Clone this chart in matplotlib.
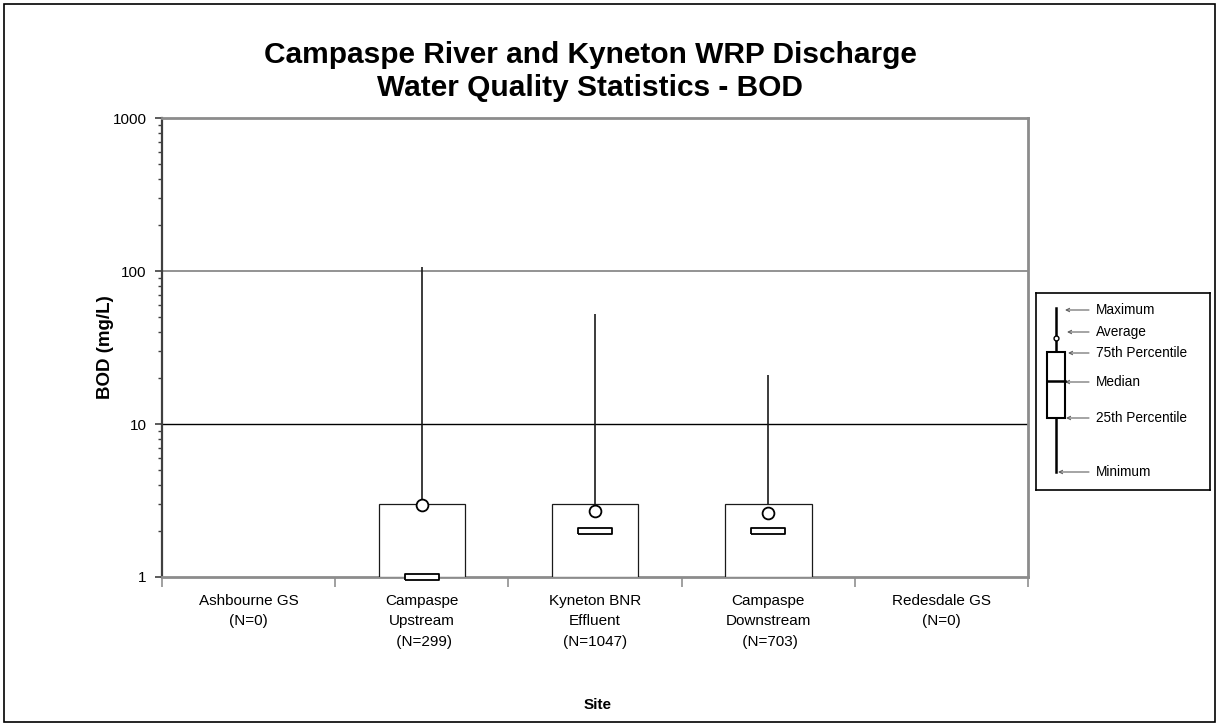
import matplotlib.pyplot as plt
from matplotlib import font_manager
from matplotlib.patches import Rectangle
from matplotlib.ticker import FixedLocator, LogLocator, NullFormatter
import numpy as np

plt.rcParams['font.family'] = ['Liberation Sans', 'DejaVu Sans']

# site statistics (BOD, mg/L)
sites = ['Ashbourne GS\n(N=0)', 'Campaspe\nUpstream\n (N=299)', 'Kyneton BNR\nEffluent\n(N=1047)',
         'Campaspe\nDownstream\n (N=703)', 'Redesdale GS\n(N=0)']
minimum = [np.nan, 1.0, 1.0, 1.0, np.nan]
pct25 = [np.nan, 1.0, 1.0, 1.0, np.nan]
median = [np.nan, 1.0, 2.0, 2.0, np.nan]
pct75 = [np.nan, 3.0, 3.0, 3.0, np.nan]
maximum = [np.nan, 106.0, 52.0, 21.0, np.nan]
average = [np.nan, 2.97, 2.7, 2.62, np.nan]

legend_labels = ['Maximum', 'Average', '75th Percentile', 'Median', '25th Percentile', 'Minimum']

narrow = 'Liberation Sans Narrow'
try:
    font_manager.findfont(narrow, fallback_to_default=False)
    narrow_font, narrow_size = [narrow, 'Liberation Sans'], 11
except ValueError:
    narrow_font, narrow_size = ['Liberation Sans'], 9.8

W, H = 1219, 724
fig = plt.figure(figsize=(W / 100, H / 100), dpi=100)
ax = fig.add_axes([162 / W, 1 - 577 / H, 866 / W, 459 / H])

x = np.arange(len(sites))
lo = np.array(pct25)
hi = np.array(pct75)

# whiskers
ax.vlines(x, hi, maximum, color='#1a1a1a', lw=1.2, zorder=2)
ax.vlines(x, minimum, lo, color='#1a1a1a', lw=1.2, zorder=2)
# boxes
ax.bar(x, hi - lo, bottom=lo, width=0.5, facecolor='white', edgecolor='#1a1a1a', lw=0.9, zorder=3)
# median markers
med_marker = [(-2.5, -0.5), (2.5, -0.5), (2.5, 0.5), (-2.5, 0.5), (-2.5, -0.5)]
ax.plot(x, median, linestyle='none', marker=med_marker, markersize=25, mfc='white', mec='black',
        mew=1.3, zorder=4, clip_on=False)
# averages
ax.plot(x, average, linestyle='none', marker='o', markersize=8.5, mfc='white', mec='black',
        mew=1.3, zorder=5)

ax.set_yscale('log')
ax.set_ylim(1, 1000)
ax.set_xlim(-0.5, len(sites) - 0.5)
ax.yaxis.set_major_locator(FixedLocator([1, 10, 100, 1000]))
ax.set_yticklabels(['1', '10', '100', '1000'])
ax.yaxis.set_minor_locator(LogLocator(base=10, subs=np.arange(2, 10)))
ax.yaxis.set_minor_formatter(NullFormatter())
ax.tick_params(axis='y', which='major', direction='out', length=5, width=1.2, colors='#404040',
               labelcolor='black', labelsize=11, pad=6)
ax.tick_params(axis='y', which='minor', direction='out', length=3, width=1.0, colors='#404040')

ax.set_xticks(x)
ax.set_xticklabels(sites, fontsize=11, linespacing=1.6)
ax.set_xticks(np.arange(-0.5, len(sites)), minor=True)
ax.tick_params(axis='x', which='major', length=0, pad=12)
ax.tick_params(axis='x', which='minor', direction='out', length=7, width=1.2, colors='#909090')

ax.axhline(100, color='#808080', lw=1.2, zorder=1)
ax.axhline(10, color='black', lw=1.0, zorder=1)

for side in ['top', 'right', 'bottom']:
    ax.spines[side].set_color('#8c8c8c')
    ax.spines[side].set_linewidth(2)
ax.spines['left'].set_color('#404040')
ax.spines['left'].set_linewidth(1.6)

fig.text(590 / W, 1 - 55 / H, 'Campaspe River and Kyneton WRP Discharge', ha='center', va='center',
         fontsize=21.5, fontweight='bold')
fig.text(590 / W, 1 - 88 / H, 'Water Quality Statistics - BOD', ha='center', va='center',
         fontsize=21.5, fontweight='bold')
fig.text(105 / W, 1 - 347 / H, 'BOD (mg/L)', rotation=90, ha='center', va='center',
         fontsize=13.5, fontweight='bold')
fig.text(598 / W, 1 - 705 / H, 'Site', ha='center', va='center', fontsize=11, fontweight='bold')

# key panel explaining the box symbol
lg = fig.add_axes([1036 / W, 1 - 490 / H, 174 / W, 197 / H])
lg.set_xlim(0, 174)
lg.set_ylim(197, 0)
lg.set_xticks([])
lg.set_yticks([])
for s in lg.spines.values():
    s.set_linewidth(1.2)
    s.set_color('black')
lg.plot([20, 20], [15, 179], color='black', lw=1.8)
lg.add_patch(Rectangle((11, 59), 18, 66, facecolor='white', edgecolor='black', lw=1.5, zorder=3))
lg.plot([11, 29], [88, 88], color='black', lw=1.8, zorder=4)
lg.plot([20], [45], marker='o', markersize=3.5, mfc='white', mec='black', mew=1, zorder=5)
label_y = [17, 39, 60, 89, 125, 179]
arrow_tip = [29, 31, 32, 29, 30, 22]
for lab, yy, tip in zip(legend_labels, label_y, arrow_tip):
    lg.annotate('', xy=(tip, yy), xytext=(53, yy),
                arrowprops=dict(arrowstyle='->', color='#606060', lw=0.8, shrinkA=0, shrinkB=0,
                                mutation_scale=6))
    lg.text(60, yy, lab, ha='left', va='center', fontsize=narrow_size, family=narrow_font)

fig.patches.append(Rectangle((4 / W, 2 / H), 1211 / W, 718 / H, transform=fig.transFigure,
                             fill=False, edgecolor='black', lw=1.2))

fig.savefig('out.png', dpi=100)
